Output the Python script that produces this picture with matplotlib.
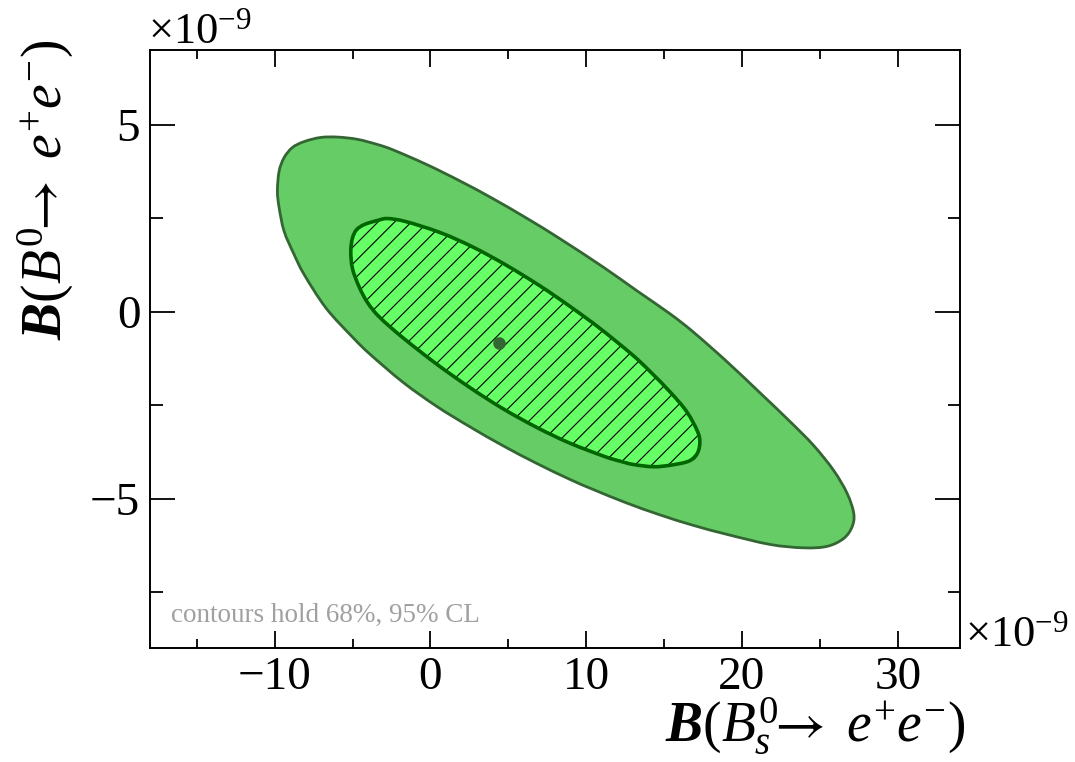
import matplotlib

matplotlib.use('Agg')
import matplotlib.pyplot as plt
from matplotlib.path import Path
from matplotlib.patches import PathPatch
from matplotlib.ticker import MultipleLocator

# ── Fonts: ROOT-like Times look ───────────────────────────────────────────────
plt.rcParams['font.family'] = ['Liberation Serif', 'DejaVu Serif']
plt.rcParams['mathtext.fontset'] = 'custom'
plt.rcParams['mathtext.rm'] = 'Liberation Serif'
plt.rcParams['mathtext.it'] = 'Liberation Serif:italic'
plt.rcParams['mathtext.bf'] = 'Liberation Serif:bold'
plt.rcParams['mathtext.bfit'] = 'Liberation Serif:bold:italic'
plt.rcParams['mathtext.sf'] = 'STIXGeneral'   # long thin arrow
plt.rcParams['mathtext.fallback'] = 'stix'
plt.rcParams['hatch.linewidth'] = 0.8

# ── Data (both axes in units of 1e-9) ─────────────────────────────────────────
# 95% CL contour
outer_x = [-9.82, -9.71, -9.39, -8.86, -8.10, -7.04, -5.96, -4.68, -3.39, -2.41,
           -0.26, 1.88, 4.03, 6.26, 8.32, 11.10, 13.25, 15.39, 16.89, 19.04,
           21.18, 23.11, 24.60, 25.89, 26.75, 27.18, 27.07, 26.53, 25.47, 23.96,
           21.82, 19.04, 16.89, 14.75, 12.60, 10.46, 8.96, 6.82, 4.67, 2.53,
           0.39, -1.76, -3.90, -4.98, -6.69, -8.10, -8.75, -9.39, -9.71]
outer_y = [3.23, 3.76, 4.12, 4.39, 4.55, 4.66, 4.67, 4.61, 4.47, 4.33,
           3.94, 3.50, 3.02, 2.48, 1.95, 1.19, 0.56, -0.06, -0.55, -1.34,
           -2.18, -2.95, -3.58, -4.25, -4.86, -5.40, -5.76, -6.07, -6.28, -6.32,
           -6.23, -5.96, -5.72, -5.44, -5.12, -4.76, -4.49, -4.06, -3.59, -3.08,
           -2.53, -1.89, -1.13, -0.69, 0.09, 0.99, 1.53, 2.15, 2.78]

# 68% CL contour
inner_x = [-5.11, -5.00, -4.74, -4.24, -3.39, -2.75, -1.59, 0.60, 2.72, 4.84,
           7.03, 8.96, 10.89, 12.95, 14.10, 15.39, 16.46, 17.21, 17.27, 17.00,
           16.46, 15.39, 14.32, 13.03, 12.17, 11.21, 8.96, 6.84, 4.67, 2.53,
           0.39, -1.76, -3.26, -4.03, -4.57, -5.00]
inner_y = [1.62, 1.97, 2.19, 2.33, 2.44, 2.49, 2.41, 2.12, 1.73, 1.25,
           0.69, 0.14, -0.45, -1.15, -1.60, -2.15, -2.68, -3.27, -3.62, -3.88,
           -4.02, -4.11, -4.15, -4.09, -4.00, -3.88, -3.52, -3.10, -2.60, -2.03,
           -1.40, -0.70, -0.15, 0.24, 0.66, 1.15]

# best-fit point
best_x = [4.38]
best_y = [-0.84]

x_lim = (-18, 34)
y_lim = (-9, 7)


def smooth_closed_path(xs, ys):
    """Closed Catmull-Rom curve through the given vertices, as cubic Beziers."""
    n = len(xs)
    pts = list(zip(xs, ys))
    verts = [pts[0]]
    codes = [Path.MOVETO]
    for i in range(n):
        p0, p1 = pts[i - 1], pts[i]
        p2, p3 = pts[(i + 1) % n], pts[(i + 2) % n]
        c1 = (p1[0] + (p2[0] - p0[0]) / 6, p1[1] + (p2[1] - p0[1]) / 6)
        c2 = (p2[0] - (p3[0] - p1[0]) / 6, p2[1] - (p3[1] - p1[1]) / 6)
        verts += [c1, c2, p2]
        codes += [Path.CURVE4] * 3
    verts.append(pts[0])
    codes.append(Path.CLOSEPOLY)
    return Path(verts, codes)


# ── Canvas ────────────────────────────────────────────────────────────────────
W, H = 1075, 762
fig = plt.figure(figsize=(W / 100, H / 100), dpi=100)
fig.patch.set_facecolor('white')
ax = fig.add_axes([150 / W, 114 / H, 810 / W, 598 / H])

# ── Contours ──────────────────────────────────────────────────────────────────
outer = smooth_closed_path(outer_x, outer_y)
inner = smooth_closed_path(inner_x, inner_y)
ax.add_patch(PathPatch(outer, facecolor='#66cc66', edgecolor='#336633',
                       linewidth=2.0, zorder=2))
ax.add_patch(PathPatch(inner, facecolor='#66ff66', edgecolor='black',
                       linewidth=0, hatch='//', zorder=3))
ax.add_patch(PathPatch(inner, facecolor='none', edgecolor='#006600',
                       linewidth=2.6, zorder=4))
ax.plot(best_x, best_y, 'o', color='#336633', ms=8, zorder=5)

ax.text(-16.64, -8.31, 'contours hold 68%, 95% CL', color='#a0a0a0',
        fontsize=19.5, ha='left', va='baseline', zorder=6)

# ── Axes styling ──────────────────────────────────────────────────────────────
ax.set_xlim(*x_lim)
ax.set_ylim(*y_lim)
ax.xaxis.set_major_locator(MultipleLocator(10))
ax.xaxis.set_minor_locator(MultipleLocator(5))
ax.yaxis.set_major_locator(MultipleLocator(5))
ax.yaxis.set_minor_locator(MultipleLocator(2.5))
ax.tick_params(which='both', direction='in', top=True, right=True,
               width=1.3, color='black', labelsize=34)
ax.tick_params(axis='x', which='major', length=12.5, pad=6)
ax.tick_params(axis='x', which='minor', length=6.5)
ax.tick_params(axis='y', which='major', length=18, pad=7)
ax.tick_params(axis='y', which='minor', length=9)
for s in ax.spines.values():
    s.set_linewidth(1.4)

# ── Exponent markers and axis titles ─────────────────────────────────────────
fig.text(148 / W, 1 - 43 / H, r'$\times10^{-9}$', fontsize=32,
         ha='left', va='baseline')
fig.text(965 / W, 1 - 646 / H, r'$\times10^{-9}$', fontsize=32,
         ha='left', va='baseline')

fig.text(965 / W, 1 - 726 / H,
         r'$\mathbfit{B}(B^{0}_{s}\!\!\mathsf{\rightarrow}\ e^{+}e^{-})$',
         fontsize=40, ha='right', va='center')
fig.text(46 / W, 1 - 40 / H,
         r'$\mathbfit{B}(B^{0}\!\!\mathsf{\rightarrow}\ e^{+}e^{-})$',
         fontsize=40, rotation=90, ha='center', va='top')

fig.savefig('out.png', dpi=100, facecolor=fig.get_facecolor())
